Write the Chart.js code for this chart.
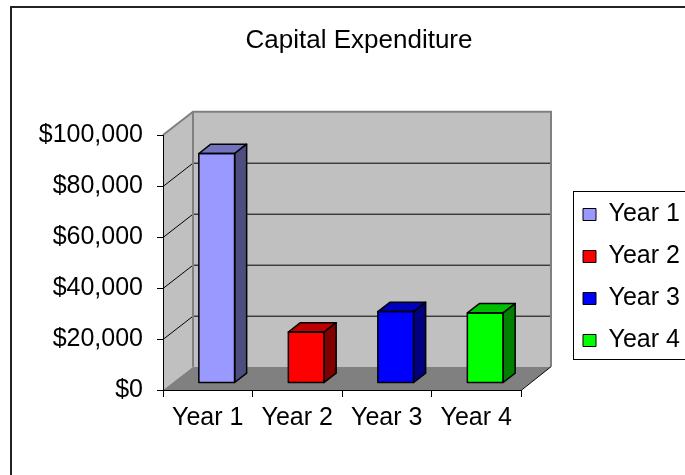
<!DOCTYPE html>
<html>
<head>
<meta charset="utf-8">
<script src="https://cdn.jsdelivr.net/npm/chart.js@4/dist/chart.umd.min.js"></script>
<style>
  html, body { margin: 0; padding: 0; background: #ffffff; }
  #wrap { width: 685px; height: 475px; position: relative; }
</style>
</head>
<body>
<div id="wrap"><canvas id="c" width="685" height="475"></canvas></div>
<script>
// ---- data ----
const chartTitle = 'Capital Expenditure';
const categories = ['Year 1', 'Year 2', 'Year 3', 'Year 4'];
const expenditure = [90000, 20000, 28000, 27500];
const barColors = ['#9999ff', '#ff0000', '#0000ff', '#00ff00'];
const yTickValues = [0, 20000, 40000, 60000, 80000, 100000];

// ---- style / geometry ----
const FONT = '"Liberation Sans", Arial, sans-serif';
const TEXT_SIZE = 25;
const TITLE_SIZE = 26;
const DEPTH = { dx: 30, dy: -23.3 };     // 3D depth of the plot box
const BAR_FRONT = 0.3;                     // bar front plane as fraction of depth
const BAR_DEPTH = 0.4;                     // bar depth as fraction of depth
const WALL = '#c0c0c0', FLOOR = '#808080', WALL_EDGE = '#808080';
const TITLE_CX = 359;
const LEGEND_BOX = { left: 573.5, top: 191.5, width: 140, height: 168 };

Chart.defaults.font.family = FONT;
Chart.defaults.color = '#000';

function shade(hex, f) {
  const n = parseInt(hex.slice(1), 16);
  const r = Math.round(((n >> 16) & 255) * f), g = Math.round(((n >> 8) & 255) * f), b = Math.round((n & 255) * f);
  return 'rgb(' + r + ',' + g + ',' + b + ')';
}

const box3d = {
  id: 'box3d',
  afterLayout(chart) {
    const lg = chart.legend;
    if (lg) {
      lg.left = LEGEND_BOX.left - 7.5;
      lg.width = 140;
      lg.right = lg.left + lg.width;
      lg.top = 150; lg.bottom = 405; lg.height = 255;
    }
    const tb = chart.titleBlock;
    if (tb) {
      const w = tb.right - tb.left;
      tb.left = TITLE_CX - w / 2; tb.right = TITLE_CX + w / 2;
    }
  },
  beforeDraw(chart) {
    const ctx = chart.ctx, ys = chart.scales.y, ca = chart.chartArea;
    const L = ca.left, R = ca.right;
    const T = ys.getPixelForValue(ys.max), B = ys.getPixelForValue(ys.min);
    const dx = DEPTH.dx, dy = DEPTH.dy;
    ctx.save();
    // side wall
    ctx.fillStyle = WALL;
    ctx.beginPath();
    ctx.moveTo(L, B); ctx.lineTo(L, T); ctx.lineTo(L + dx, T + dy); ctx.lineTo(L + dx, B + dy); ctx.closePath();
    ctx.fill();
    // back wall
    ctx.fillRect(L + dx, T + dy, R - L, B - T);
    // floor
    ctx.fillStyle = FLOOR;
    ctx.beginPath();
    ctx.moveTo(L, B); ctx.lineTo(R, B); ctx.lineTo(R + dx, B + dy); ctx.lineTo(L + dx, B + dy); ctx.closePath();
    ctx.fill();
    // gridlines on walls
    ctx.strokeStyle = '#000'; ctx.lineWidth = 1;
    ys.ticks.forEach(t => {
      if (t.value <= ys.min || t.value >= ys.max) return;
      const y = Math.round(ys.getPixelForValue(t.value)) + 0.5;
      ctx.beginPath();
      ctx.moveTo(L, y); ctx.lineTo(L + dx, y + dy); ctx.lineTo(R + dx, y + dy);
      ctx.stroke();
    });
    // wall edges
    ctx.strokeStyle = WALL_EDGE; ctx.lineWidth = 2;
    ctx.beginPath();
    ctx.moveTo(L, T); ctx.lineTo(L + dx, T + dy); ctx.lineTo(R + dx, T + dy); ctx.lineTo(R + dx, B + dy);
    ctx.moveTo(L + dx, T + dy); ctx.lineTo(L + dx, B + dy);
    ctx.stroke();
    // floor right edge
    ctx.strokeStyle = '#000'; ctx.lineWidth = 1;
    ctx.beginPath();
    ctx.moveTo(R, B + 0.5); ctx.lineTo(R + dx, B + dy);
    ctx.stroke();
    // outer chart frame
    ctx.strokeStyle = '#222'; ctx.lineWidth = 2;
    ctx.beginPath();
    ctx.moveTo(11, 480); ctx.lineTo(11, 7); ctx.lineTo(690, 7);
    ctx.stroke();
    ctx.restore();
  },
  beforeDatasetsDraw(chart) {
    chart.ctx.save();
    chart.ctx.translate(DEPTH.dx * BAR_FRONT, DEPTH.dy * BAR_FRONT);
  },
  afterDatasetsDraw(chart) {
    const ctx = chart.ctx;
    const bdx = DEPTH.dx * BAR_DEPTH, bdy = DEPTH.dy * BAR_DEPTH;
    const meta = chart.getDatasetMeta(0);
    meta.data.forEach((el, i) => {
      const p = el.getProps(['x', 'y', 'base', 'width'], true);
      const l = p.x - p.width / 2, r = p.x + p.width / 2, t = Math.min(p.y, p.base), b = Math.max(p.y, p.base);
      const col = barColors[i % barColors.length];
      ctx.lineWidth = 1.5; ctx.strokeStyle = '#000'; ctx.lineJoin = 'round';
      // top face
      ctx.fillStyle = shade(col, 0.75);
      ctx.beginPath();
      ctx.moveTo(l, t); ctx.lineTo(r, t); ctx.lineTo(r + bdx, t + bdy); ctx.lineTo(l + bdx, t + bdy); ctx.closePath();
      ctx.fill(); ctx.stroke();
      // side face
      ctx.fillStyle = shade(col, 0.5);
      ctx.beginPath();
      ctx.moveTo(r, t); ctx.lineTo(r + bdx, t + bdy); ctx.lineTo(r + bdx, b + bdy); ctx.lineTo(r, b); ctx.closePath();
      ctx.fill(); ctx.stroke();
      // front outline
      ctx.strokeRect(l, t, r - l, b - t);
    });
    ctx.restore();
  },
  afterDraw(chart) {
    const ctx = chart.ctx;
    ctx.save();
    ctx.strokeStyle = '#000'; ctx.lineWidth = 1;
    ctx.strokeRect(LEGEND_BOX.left, LEGEND_BOX.top, LEGEND_BOX.width, LEGEND_BOX.height);
    ctx.restore();
  }
};

new Chart(document.getElementById('c'), {
  type: 'bar',
  data: {
    labels: categories,
    datasets: [{
      label: chartTitle,
      data: expenditure,
      backgroundColor: barColors,
      borderColor: '#000',
      borderWidth: 0,
      barPercentage: 0.4,
      categoryPercentage: 1.0
    }]
  },
  options: {
    responsive: false,
    devicePixelRatio: 1,
    animation: false,
    layout: { padding: { left: 0, right: 54, top: 0, bottom: 0 } },
    plugins: {
      tooltip: { enabled: false },
      title: {
        display: true,
        text: chartTitle,
        color: '#000',
        font: { size: TITLE_SIZE, weight: 'normal', family: FONT },
        padding: { top: 25.6, bottom: 78.2 }
      },
      legend: {
        display: true,
        position: 'right',
        align: 'center',
        maxWidth: 110,
        labels: {
          font: { size: TEXT_SIZE, family: FONT },
          color: '#000',
          boxWidth: 13,
          boxHeight: 12,
          padding: 17,
          generateLabels: () => categories.map((c, i) => ({
            text: c,
            fillStyle: barColors[i],
            strokeStyle: '#000',
            lineWidth: 1,
            hidden: false,
            index: i,
            datasetIndex: 0
          }))
        }
      }
    },
    scales: {
      x: {
        type: 'category',
        offset: true,
        grid: { offset: true, drawOnChartArea: false, drawTicks: true, tickLength: 7, color: '#000', lineWidth: 1 },
        border: { display: true, color: '#000', width: 1 },
        ticks: { font: { size: TEXT_SIZE, family: FONT }, color: '#000', padding: 6, maxRotation: 0, autoSkip: false },
        afterFit: (s) => { s.height = 85; }
      },
      y: {
        type: 'linear',
        min: 0,
        max: 100000,
        afterBuildTicks: (s) => { s.ticks = yTickValues.map(v => ({ value: v })); },
        grid: { drawOnChartArea: false, drawTicks: true, tickLength: 6, color: '#000', lineWidth: 1 },
        border: { display: true, color: '#000', width: 1 },
        ticks: {
          font: { size: TEXT_SIZE, family: FONT },
          color: '#000',
          padding: 14,
          callback: (v) => '$' + Number(v).toLocaleString('en-US')
        },
        afterFit: (s) => { s.width = 163; }
      }
    }
  },
  plugins: [box3d]
});
</script>
</body>
</html>
